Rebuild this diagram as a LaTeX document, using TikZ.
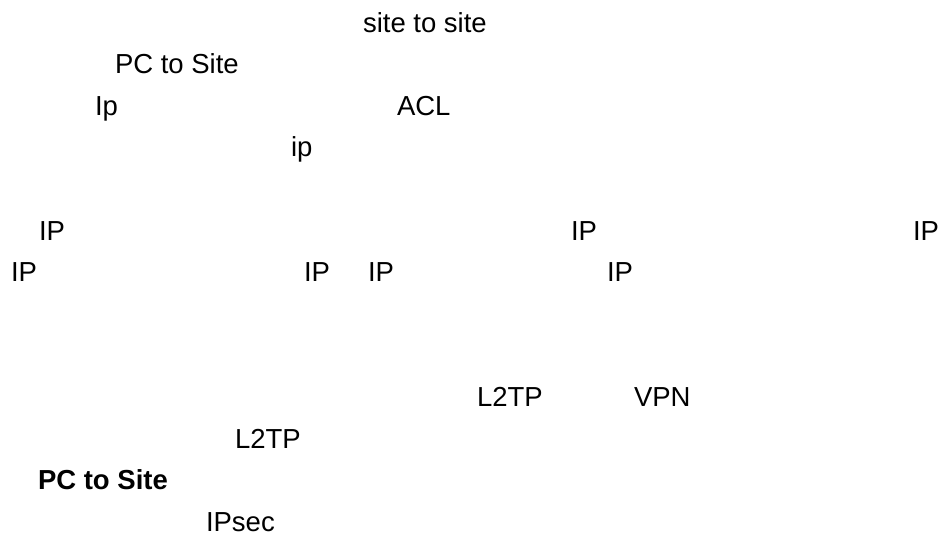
\documentclass[tikz,border=0pt]{standalone}
\usepackage{fontspec}
\setmainfont{Liberation Sans}
\begin{document}
\begin{tikzpicture}[x=1pt,y=-1pt,
  lbl/.style={anchor=base west, inner sep=0pt, outer sep=0pt, font=\fontsize{27.5}{33}\selectfont},
  blbl/.style={lbl, font=\fontsize{27.5}{33}\selectfont\bfseries}]
\useasboundingbox[fill=white] (0,0) rectangle (949,538);
\node[lbl] (t1) at (363,32) {site to site};
\node[lbl] (t2) at (115,73.6) {PC to Site};
\node[lbl] (t3a) at (95,115.2) {Ip};
\node[lbl] (t3b) at (397,115.2) {ACL};
\node[lbl] (t4) at (291,156.8) {ip};
\node[lbl] (r1a) at (39,240) {IP};
\node[lbl] (r1b) at (571,240) {IP};
\node[lbl] (r1c) at (913,240) {IP};
\node[lbl] (r2a) at (11,281.6) {IP};
\node[lbl] (r2b) at (304,281.6) {IP};
\node[lbl] (r2c) at (368,281.6) {IP};
\node[lbl] (r2d) at (607,281.6) {IP};
\node[lbl] (l1a) at (477,406.4) {L2TP};
\node[lbl] (l1b) at (634,406.4) {VPN};
\node[lbl] (l2) at (235,448) {L2TP};
\node[blbl] (pcb) at (38,489.6) {PC to Site};
\node[lbl] (ips) at (206,531.2) {IPsec};
\end{tikzpicture}
\end{document}
